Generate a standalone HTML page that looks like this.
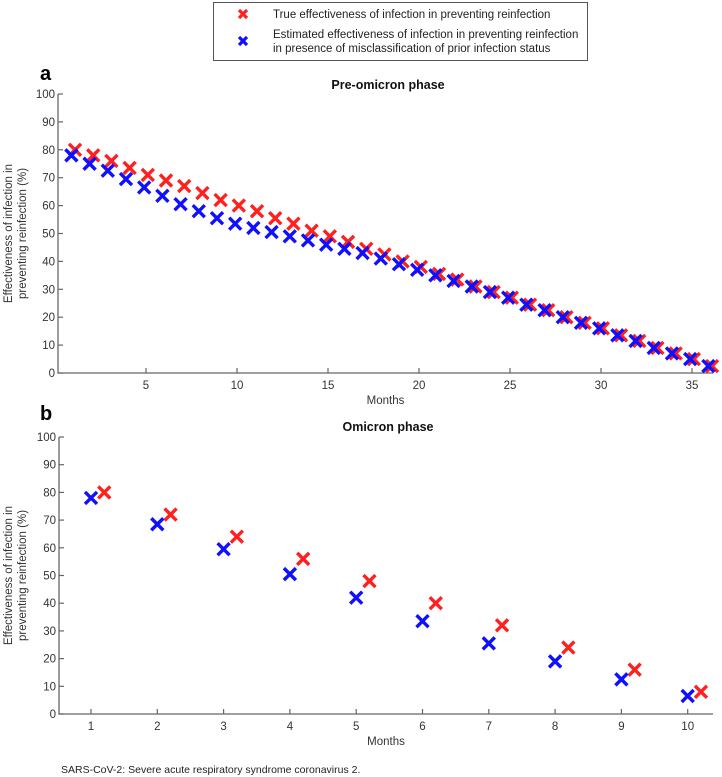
<!DOCTYPE html>
<html><head><meta charset="utf-8">
<style>
body{margin:0;background:#fff;}
svg{display:block;font-family:"Liberation Sans",Arial,sans-serif;}
</style></head>
<body>
<svg id="chart" width="722" height="777" viewBox="0 0 722 777">
<g>
  <rect x="213.5" y="2.5" width="374" height="58" fill="#fff" stroke="#555" stroke-width="1"/>
  <g stroke="#ff2020" stroke-width="3.2"><line x1="239" y1="10" x2="247" y2="18"/><line x1="247" y1="10" x2="239" y2="18"/></g>
  <text x="273" y="18" font-size="11.5" fill="#222">True effectiveness of infection in preventing reinfection</text>
  <g stroke="#1010ff" stroke-width="3.2"><line x1="239" y1="37" x2="247" y2="45"/><line x1="247" y1="37" x2="239" y2="45"/></g>
  <text x="273" y="38" font-size="11.5" fill="#222">Estimated effectiveness of infection in preventing reinfection</text>
  <text x="273" y="52" font-size="11.5" fill="#222">in presence of misclassification of prior infection status</text>
</g>
<g id="pa"></g>
<g id="pb"></g>
<text x="61" y="773" font-size="10.5" fill="#222">SARS-CoV-2: Severe acute respiratory syndrome coronavirus 2.</text>
</svg>
<script>
const monthsA = [1,2,3,4,5,6,7,8,9,10,11,12,13,14,15,16,17,18,19,20,21,22,23,24,25,26,27,28,29,30,31,32,33,34,35,36];
const trueA = [80,78,76,73.5,71,69,67,64.5,62,60,58,55.5,53.5,51,49,47,44.5,42.5,40,38,35.5,33.5,31,29,27,24.5,22.5,20,18,16,13.5,11.5,9,7,5,2.5];
const estA = [78,75,72.5,69.5,66.5,63.5,60.5,58,55.5,53.5,52,50.5,49,47.5,46,44.5,43,41,39,37,35,33,31,29,27,24.5,22.5,20,18,16,13.5,11.5,9,7,5,2.5];
const xTicksA = [5,10,15,20,25,30,35];
const monthsB = [1,2,3,4,5,6,7,8,9,10];
const trueB = [80,72,64,56,48,40,32,24,16,8];
const estB = [78,68.5,59.5,50.5,42,33.5,25.5,19,12.5,6.5];
const xTicksB = [1,2,3,4,5,6,7,8,9,10];
const yTicks = [0,10,20,30,40,50,60,70,80,90,100];

const NS='http://www.w3.org/2000/svg';
function mk(p,tag,at){const e=document.createElementNS(NS,tag);for(const k in at)e.setAttribute(k,at[k]);p.appendChild(e);return e;}

function panel(g,cfg){
  const xs=m=>cfg.x0+(m-cfg.m0)*cfg.dx;
  const ys=v=>cfg.yb-v*cfg.dy;
  const ax=mk(g,'path',{d:`M${cfg.left} ${ys(100)} V${cfg.yb} H${cfg.right}`,fill:'none',stroke:'#666','stroke-width':1.3});
  
  
  yTicks.forEach(v=>{
    const t=mk(g,'line',{x1:cfg.left,x2:cfg.left+5,y1:ys(v),y2:ys(v),stroke:'#666','stroke-width':1.2});
    
    
    const l=mk(g,'text',{x:cfg.left-3,y:ys(v)+4,'font-size':11.5,'text-anchor':'end',fill:'#333'});
    l.textContent=v;
    
    
  });
  cfg.ticks.forEach(m=>{
    const t=mk(g,'line',{x1:xs(m),x2:xs(m),y1:cfg.yb,y2:cfg.yb-5,stroke:'#666','stroke-width':1.2});
    
    
    const l=mk(g,'text',{x:xs(m),y:cfg.yb+16,'font-size':11.5,'text-anchor':'middle',fill:'#333'});
    l.textContent=m;
    
    
  });
  const xt=mk(g,'text',{x:(cfg.left+cfg.right)/2,y:cfg.yb+31,'font-size':11.5,'text-anchor':'middle',fill:'#333'});
  xt.textContent='Months';
  
  
  const tt=mk(g,'text',{x:388,y:cfg.titleY,'font-size':12.5,'font-weight':'bold','text-anchor':'middle',fill:'#111'});
  tt.textContent=cfg.title;
  
  
  const pl=mk(g,'text',{x:40,y:cfg.labelY,'font-size':20,'font-weight':'bold',fill:'#000'});
  pl.textContent=cfg.label;
  
  
  const cy=(ys(100)+cfg.yb)/2;
  const y1=mk(g,'text',{transform:`translate(12,${cy}) rotate(-90)`,'font-size':11.5,'text-anchor':'middle',fill:'#333'});
  y1.textContent='Effectiveness of infection in';
  
  
  const y2=mk(g,'text',{transform:`translate(26,${cy}) rotate(-90)`,'font-size':11.5,'text-anchor':'middle',fill:'#333'});
  y2.textContent='preventing reinfection (%)';
  
  
  function cross(m,v,col,name){
    const cx=xs(m),cyy=ys(v),h=6;
    const c=mk(g,'path',{d:`M${cx-h} ${cyy-h}L${cx+h} ${cyy+h}M${cx+h} ${cyy-h}L${cx-h} ${cyy+h}`,stroke:col,'stroke-width':3.4,fill:'none'});
    
    
  }
  cfg.months.forEach((m,i)=>cross(m+cfg.offT,cfg.tr[i],'#ff2020','marker-true'));
  cfg.months.forEach((m,i)=>cross(m+cfg.offE,cfg.es[i],'#1010ff','marker-estimated'));
}
panel(document.getElementById('pa'),{x0:146,m0:5,dx:18.2,yb:373,dy:2.79,left:58,right:713,ticks:xTicksA,months:monthsA,tr:trueA,es:estA,offT:0.1,offE:-0.1,title:'Pre-omicron phase',titleY:89,label:'a',labelY:80});
panel(document.getElementById('pb'),{x0:91,m0:1,dx:66.3,yb:714,dy:2.77,left:59,right:713,ticks:xTicksB,months:monthsB,tr:trueB,es:estB,offT:0.2,offE:0,title:'Omicron phase',titleY:431,label:'b',labelY:420});
</script>
</body></html>
